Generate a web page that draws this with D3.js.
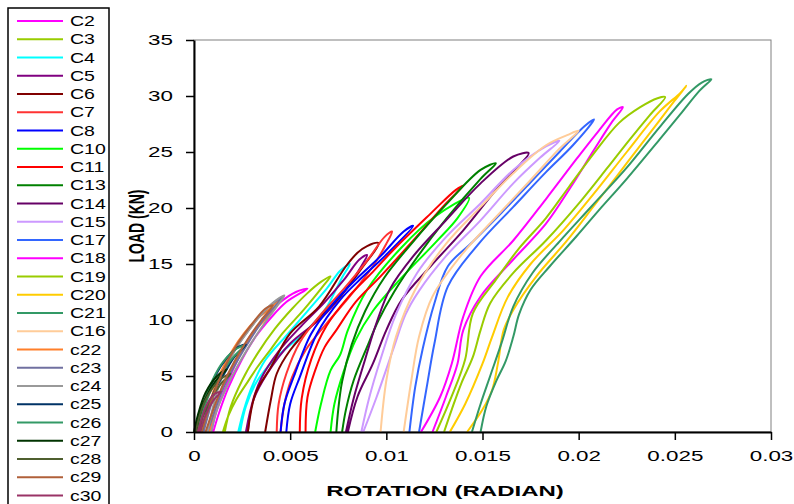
<!DOCTYPE html>
<html lang="en">
<head>
<meta charset="UTF-8">
<title>Load vs Rotation</title>
<script src="https://d3js.org/d3.v7.min.js"></script>
<style>
  body { margin: 0; background: #fff; }
  svg { display: block; font-family: "Liberation Sans", Arial, sans-serif; }
</style>
</head>
<body>
<div id="chart"></div>
<script>
// [rotation (rad), load (kN)]: loading branch, then the return branch
const C2  = [[0.0010,0],[0.0013,1.7],[0.0018,4],[0.0025,6.5],[0.0032,8.5],[0.0040,10.2],[0.0048,11.6],[0.0059,12.8],
             [0.0053,12.5],[0.0045,11.6],[0.0037,10.2],[0.0029,8.5],[0.0022,6.2],[0.0016,3.8],[0.0011,1.5],[0.0009,0]];
const C3  = [[0.0015,0],[0.0018,1.5],[0.0022,2.9],[0.0028,4.5],[0.0033,5.8],[0.0040,7.4],[0.0046,8.8],[0.0057,10.9],[0.0067,13.0],[0.0071,13.9],
             [0.0066,13.4],[0.0059,12.4],[0.0051,11.0],[0.0042,9.2],[0.0033,7.0],[0.0025,4.6],[0.0019,2.2],[0.0016,0]];
const C4  = [[0.0024,0],[0.0027,2.3],[0.0033,4.6],[0.0043,6.7],[0.0057,8.8],[0.0068,10.9],[0.0077,13.8],[0.0081,15.0],
             [0.0076,14.4],[0.0069,12.8],[0.0059,10.8],[0.0048,8.6],[0.0037,6.4],[0.0030,4],[0.0026,2],[0.0023,0]];
const C5  = [[0.0027,0],[0.0031,2.9],[0.0038,5.2],[0.0050,7.9],[0.0067,10.3],[0.0079,12.7],[0.0087,14.8],[0.0090,15.8],
             [0.0086,15.4],[0.0078,13.6],[0.0068,11.6],[0.0056,9.5],[0.0044,7.2],[0.0035,4.8],[0.0030,2.4],[0.0028,0]];
const C6  = [[0.0037,0],[0.0040,2.9],[0.0043,5.2],[0.0050,7.3],[0.0064,10.0],[0.0076,12.1],[0.0088,14.8],[0.0096,16.85],
             [0.0090,16.6],[0.0085,16.0],[0.0079,14.8],[0.0065,11.2],[0.0050,8.8],[0.0040,5.8],[0.0032,3.45],[0.0028,0]];
const C7  = [[0.0045,0],[0.0047,2.5],[0.0051,4.9],[0.0058,7.3],[0.0069,9.7],[0.0081,12.1],[0.0093,14.8],[0.0100,16.8],[0.0103,17.9],
             [0.0099,17.4],[0.0090,15.3],[0.0078,12.8],[0.0066,10.5],[0.0055,8],[0.0048,5.2],[0.0044,2.5],[0.0043,0]];
const C8  = [[0.0048,0],[0.0050,2.5],[0.0055,4.9],[0.0064,8.8],[0.0076,11.8],[0.0088,13.9],[0.0101,16.0],[0.0114,18.4],
             [0.0109,17.9],[0.0097,15.7],[0.0084,13.6],[0.0072,11.4],[0.0061,8.8],[0.0052,5],[0.0047,2.5],[0.0045,0]];
const C10 = [[0.0063,0],[0.0066,2.5],[0.0071,5.5],[0.0076,6.9],[0.0080,9.1],[0.0090,12.7],[0.0108,16.5],[0.0125,19.2],[0.0143,20.9],
             [0.0137,19.1],[0.0126,17.0],[0.0107,13.6],[0.0093,10.8],[0.0084,8.2],[0.0078,5.5],[0.0073,2.5],[0.0071,0]];
const C11 = [[0.0058,0],[0.0059,3.1],[0.0063,5.5],[0.0068,7.6],[0.0074,9.1],[0.0084,11.6],[0.0097,13.9],[0.0114,17.1],[0.0131,20.4],[0.0140,22.0],
             [0.0136,21.6],[0.0123,19.5],[0.0105,16.5],[0.0093,14.3],[0.0080,12],[0.0069,9.5],[0.0061,6.5],[0.0056,3],[0.0055,0]];
const C13 = [[0.0077,0],[0.0079,2],[0.0083,4.6],[0.0090,7.6],[0.0096,10],[0.0104,12.5],[0.0116,15.6],[0.0131,19.0],[0.0149,22.6],[0.0157,24.0],
             [0.0149,23.4],[0.0131,20.3],[0.0114,17.0],[0.0099,13.8],[0.0089,10.8],[0.0082,7.8],[0.0077,4.5],[0.0075,2],[0.0074,0]];
const C14 = [[0.0080,0],[0.0085,3.15],[0.0093,6.1],[0.0100,9.1],[0.0108,11.8],[0.0123,14.8],[0.0140,18.0],[0.0157,21.6],[0.0168,23.6],[0.0174,24.9],
             [0.0166,24.6],[0.0149,22.2],[0.0131,18.9],[0.0114,15.7],[0.0102,12.8],[0.0095,9.8],[0.0089,6.5],[0.0083,3],[0.0079,0]];
const C15 = [[0.0088,0],[0.0095,3.15],[0.0104,7.6],[0.0110,10.5],[0.0117,12.6],[0.0131,15.7],[0.0149,18.9],[0.0166,22.2],[0.0180,24.5],[0.0190,26.0],
             [0.0183,25.5],[0.0166,23.4],[0.0149,20.4],[0.0131,17.4],[0.0116,14.2],[0.0105,10.5],[0.0097,6.5],[0.0091,3],[0.0087,0]];
const C17 = [[0.0117,0],[0.0121,4],[0.0125,7.9],[0.0132,13.0],[0.0148,16.8],[0.0166,20.1],[0.0183,23.2],[0.0197,25.6],[0.0208,27.9],
             [0.0203,27.3],[0.0190,25.0],[0.0175,22.3],[0.0160,19.6],[0.0145,17.0],[0.0132,14.8],[0.0125,11.5],[0.0119,7.5],[0.0115,4],[0.0112,0]];
const C18 = [[0.0124,0],[0.0131,3.15],[0.0137,6.1],[0.0140,9.1],[0.0149,12.1],[0.0166,15.4],[0.0183,18.6],[0.0196,21.9],[0.0208,25.2],[0.0217,27.6],[0.0223,29.0],
             [0.0220,28.8],[0.0210,26.8],[0.0199,24.4],[0.0183,20.8],[0.0166,17.1],[0.0149,13.9],[0.0140,10.3],[0.0134,6.1],[0.0128,3.15],[0.0118,0]];
const C19 = [[0.0130,0],[0.0134,2],[0.0139,4.35],[0.0145,6.7],[0.0149,9.1],[0.0154,11.5],[0.0166,14.2],[0.0183,17.1],[0.0201,20.6],[0.0215,23.6],[0.0226,26.0],[0.0237,28.3],[0.0245,29.9],
             [0.0241,29.8],[0.0232,29.0],[0.0221,27.6],[0.0208,24.9],[0.0195,21.9],[0.0183,19.1],[0.0169,16.4],[0.0157,13.6],[0.0145,10.6],[0.0141,6.5],[0.0134,3.2],[0.0126,0]];
const C20 = [[0.0142,0],[0.0150,2],[0.0155,3.75],[0.0158,6.1],[0.0161,9.1],[0.0166,10.9],[0.0178,13.9],[0.0194,17.1],[0.0208,20.2],[0.0225,24.0],[0.0242,27.8],[0.0250,29.6],[0.0256,30.9],
             [0.0253,30.3],[0.0242,28.6],[0.0225,25.0],[0.0208,21.3],[0.0192,18.0],[0.0175,15.0],[0.0163,12.0],[0.0155,8.5],[0.0150,6.1],[0.0141,2.5],[0.0133,0]];
const C21 = [[0.0149,0],[0.0152,2.3],[0.0157,4.5],[0.0162,6.3],[0.0166,8.5],[0.0169,10.5],[0.0175,12.7],[0.0185,14.8],[0.0199,17.5],[0.0210,19.7],[0.0225,22.6],[0.0242,26.1],[0.0253,28.4],[0.0263,30.5],[0.0269,31.5],
             [0.0264,31.2],[0.0257,30.2],[0.0242,27.2],[0.0225,23.6],[0.0207,20.2],[0.0190,17.0],[0.0176,14.2],[0.0166,11.2],[0.0160,8],[0.0154,5],[0.0149,2.5],[0.01445,0]];
const C16 = [[0.0109,0],[0.0113,4.6],[0.0117,8.5],[0.0124,12.1],[0.0140,16],[0.0157,19.2],[0.0175,22.5],[0.0190,25.3],[0.0200,26.9],
             [0.0194,26.5],[0.0183,25.6],[0.0166,23.1],[0.0149,20.1],[0.0131,16.8],[0.0115,12.7],[0.0105,8.5],[0.0100,4.6],[0.0097,0]];
const c22 = [[0.0008,0],[0.0011,2],[0.0015,4],[0.0020,5.8],[0.0027,7.8],[0.0033,9.3],[0.0040,10.6],[0.0046,12.1],
             [0.0040,11.1],[0.0033,10.15],[0.0026,8.8],[0.0020,7.3],[0.0013,5],[0.0008,2.5],[0.0004,0]];
const c23 = [[0.0007,0],[0.0011,2],[0.0016,4.2],[0.0022,6.2],[0.0029,8.2],[0.0036,10],[0.0042,11.2],[0.0046,12.0],
             [0.0041,11.5],[0.0035,10.5],[0.0028,9.0],[0.0021,7.3],[0.0014,5],[0.0009,2.5],[0.0005,0]];
const c24 = [[0.0009,0],[0.0012,2],[0.0017,4],[0.0023,6],[0.0030,8],[0.0037,9.8],[0.0043,11.2],[0.0047,12.2],
             [0.0043,11.8],[0.0036,10.7],[0.0029,9.2],[0.0022,7.5],[0.0016,5.5],[0.0011,3],[0.0007,0]];
const c25 = [[0.0004,0],[0.0007,2],[0.0011,3.8],[0.0016,5.3],[0.0021,6.7],[0.0027,7.8],
             [0.0023,7.6],[0.0017,6.6],[0.0011,5],[0.0006,2.8],[0.0003,0]];
const c26 = [[0.0002,0],[0.0005,2],[0.0009,3.8],[0.0014,5.2],[0.0020,6.6],[0.0026,7.7],
             [0.0021,7.3],[0.0014,6.0],[0.0008,4.0],[0.0004,2],[0.0001,0]];
const c27 = [[0.0001,0],[0.0003,1.5],[0.0006,3],[0.0011,4.5],[0.0017,5.6],
             [0.0012,5.0],[0.0006,3.5],[0.0002,1.5],[0.0000,0]];
const c28 = [[0.0002,0],[0.0005,1.5],[0.0009,3],[0.0014,4.3],[0.0019,5.2],
             [0.0013,4.6],[0.0007,3.2],[0.0003,1.5],[0.0001,0]];
const c29 = [[0.0006,0],[0.0010,2],[0.0015,4.2],[0.0021,6.3],[0.0028,8.3],[0.0035,10.0],[0.0041,11.3],
             [0.0037,11],[0.0030,9.6],[0.0022,7.7],[0.0015,5.4],[0.0009,2.8],[0.0004,0]];
const c30 = [[0.0003,0],[0.0006,1.5],[0.0010,2.8],[0.0014,3.6],
             [0.0010,3.3],[0.0006,2.2],[0.0002,0]];

const seriesNames = ["C2","C3","C4","C5","C6","C7","C8","C10","C11","C13","C14","C15","C17",
                     "C18","C19","C20","C21","C16","c22","c23","c24","c25","c26","c27","c28","c29","c30"];
const seriesData = [C2,C3,C4,C5,C6,C7,C8,C10,C11,C13,C14,C15,C17,C18,C19,C20,C21,C16,c22,c23,c24,c25,c26,c27,c28,c29,c30];
const seriesColors = ["#FF00FF","#99CC00","#00FFFF","#800080","#800000","#FF3333","#0000FF","#00FF00","#FF0000",
                      "#008000","#660066","#CC99FF","#3366FF","#FF00FF","#99CC00","#FFCC00","#339966","#FFCC99",
                      "#FF7F2A","#7070A0","#999999","#003366","#339966","#003300","#4F5F2F","#B0603A","#993366"];

const xTicks = [0, 0.005, 0.01, 0.015, 0.02, 0.025, 0.03];
const xTickLabels = ["0","0.005","0.01","0.015","0.02","0.025","0.03"];
const yTicks = [0, 5, 10, 15, 20, 25, 30, 35];

const width = 794, height = 504;
const margin = { top: 40, right: 23, bottom: 72, left: 194 };
const sx = 1.6; // the picture's text is stretched sideways

const svg = d3.select("#chart").append("svg")
    .attr("width", width)
    .attr("height", height);

const x = d3.scaleLinear().domain([0, 0.03]).range([margin.left, width - margin.right]);
const y = d3.scaleLinear().domain([0, 35]).range([height - margin.bottom, margin.top]);

// plot area frame (top and right edges show grey)
svg.append("rect")
    .attr("x", x(0)).attr("y", y(35))
    .attr("width", x(0.03) - x(0)).attr("height", y(0) - y(35))
    .attr("fill", "none").attr("stroke", "#808080").attr("stroke-width", 1);

const line = d3.line()
    .x(d => x(d[0]))
    .y(d => y(d[1]))
    .curve(d3.curveCatmullRom.alpha(0.5));

svg.append("g").selectAll("path")
    .data(seriesData)
    .join("path")
    .attr("d", line)
    .attr("fill", "none")
    .attr("stroke", (d, i) => seriesColors[i])
    .attr("stroke-width", 2)
    .attr("stroke-linejoin", "round");

// axes
const yAxis = svg.append("g")
    .attr("transform", `translate(${x(0)},0)`)
    .call(d3.axisLeft(y).tickValues(yTicks).tickSize(8).tickPadding(13).tickSizeOuter(0));
const xAxis = svg.append("g")
    .attr("transform", `translate(0,${y(0)})`)
    .call(d3.axisBottom(x).tickValues(xTicks).tickFormat((d, i) => xTickLabels[i]).tickSize(8).tickPadding(11).tickSizeOuter(0));

[yAxis, xAxis].forEach(g => {
    g.select(".domain").attr("stroke", "#000").attr("stroke-width", 2);
    g.selectAll(".tick line").attr("stroke", "#000").attr("stroke-width", 1.5);
    g.selectAll(".tick text")
        .attr("fill", "#000")
        .style("font-size", "14px")
        .style("font-family", "'Liberation Sans', Arial, sans-serif");
});
yAxis.selectAll(".tick text")
    .attr("x", -21 / sx)
    .attr("transform", `scale(${sx},1)`);
xAxis.selectAll(".tick text")
    .attr("transform", `scale(${sx},1)`);

// axis titles
svg.append("text")
    .attr("transform", `translate(445,496) scale(${sx},1)`)
    .attr("text-anchor", "middle")
    .style("font-size", "15px")
    .style("font-weight", "bold")
    .text("ROTATION (RADIAN)");

svg.append("text")
    .attr("transform", `translate(144,226) rotate(-90) scale(1,${sx})`)
    .attr("text-anchor", "middle")
    .style("font-size", "14px")
    .style("font-weight", "bold")
    .text("LOAD (KN)");

// legend
const legend = svg.append("g");
legend.append("rect")
    .attr("x", 8).attr("y", 8).attr("width", 101).attr("height", 520)
    .attr("fill", "#fff").attr("stroke", "#000").attr("stroke-width", 1.5);

const rows = legend.selectAll("g.row")
    .data(seriesNames)
    .join("g")
    .attr("class", "row")
    .attr("transform", (d, i) => `translate(0,${21 + i * 18.25})`);
rows.append("line")
    .attr("x1", 17).attr("x2", 63)
    .attr("stroke", (d, i) => seriesColors[i])
    .attr("stroke-width", 2);
rows.append("text")
    .attr("transform", "translate(70,5) scale(1.3,1)")
    .style("font-size", "15px")
    .text(d => d);
</script>
</body>
</html>
